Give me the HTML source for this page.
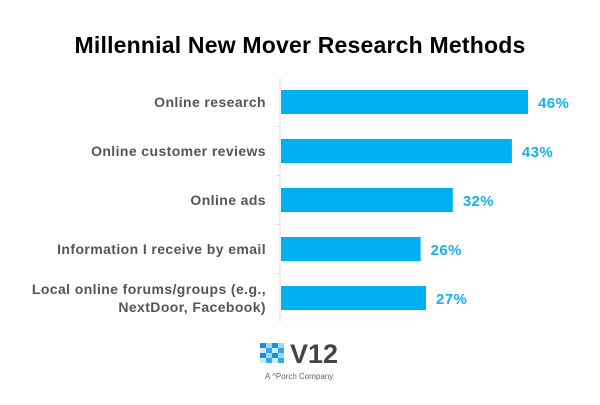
<!DOCTYPE html>
<html><head><meta charset="utf-8"><style>
body{margin:0;background:#fff;width:600px;height:400px;overflow:hidden;font-family:"Liberation Sans",sans-serif}
</style></head><body>
<svg width="600" height="400" xmlns="http://www.w3.org/2000/svg">
<text x="300" y="53" text-anchor="middle" font-size="23" font-weight="bold" letter-spacing="0.2" fill="#000">Millennial New Mover Research Methods</text>
<g id="plot"></g>
<g>
<g id="checker"></g>
<text x="290" y="363" font-size="27" font-weight="bold" fill="#444">V12</text>
<text x="265" y="379" font-size="8" fill="#666">A ^Porch Company</text>
</g>
</svg>
<script>
const categories=["Online research","Online customer reviews","Online ads","Information I receive by email","Local online forums/groups (e.g.,|NextDoor, Facebook)"];
const values=[46,43,32,26,27];
const valueLabels=["46%","43%","32%","26%","27%"];
const NS="http://www.w3.org/2000/svg";
const x0=281,scale=247/46,y0=90,step=49,bh=24;
const xs=v=>x0+v*scale, ys=i=>y0+i*step;
const g=document.getElementById('plot');
function mk(t,a){const e=document.createElementNS(NS,t);for(const k in a)e.setAttribute(k,a[k]);return e;}
const ax=mk('line',{x1:280,y1:78,x2:280,y2:322,stroke:'#ddd','stroke-width':1});


g.appendChild(ax);
for(let i=1;i<categories.length;i++){const yy=ys(i)-12.5;const t=mk('line',{x1:276,y1:yy,x2:280,y2:yy,stroke:'#ddd'});


g.appendChild(t);}
categories.forEach((c,i)=>{
 const r=mk('rect',{x:x0,y:ys(i),width:xs(values[i])-x0,height:bh,fill:'#00b0f0'});
 
 
 g.appendChild(r);
 const lines=c.split('|');
 const lt=mk('text',{x:266,'text-anchor':'end','font-size':14,'font-weight':'bold','letter-spacing':0.4,fill:'#555'});
 
 
 lines.forEach((l,j)=>{const s=mk('tspan',{x:266,y:ys(i)+bh/2+5+(j-(lines.length-1)/2)*18});s.textContent=l;lt.appendChild(s);});
 g.appendChild(lt);
 const vt=mk('text',{x:xs(values[i])+10,y:ys(i)+bh/2+6,'font-size':15,'font-weight':'bold','letter-spacing':0.4,fill:'#1ab0ec'});
 vt.textContent=valueLabels[i];
 
 
 g.appendChild(vt);
});
const ch=document.getElementById('checker');
const cols=['#1e90d6','#9fd8f5','#3aa8e8','#c9ebfa'];
for(let r=0;r<4;r++)for(let c=0;c<4;c++){const q=mk('rect',{x:260+c*6,y:343+r*5,width:6,height:5,fill:cols[(r+c)%2===0?(r%2?2:0):(c%2?1:3)]});


ch.appendChild(q);}
</script>
</body></html>
